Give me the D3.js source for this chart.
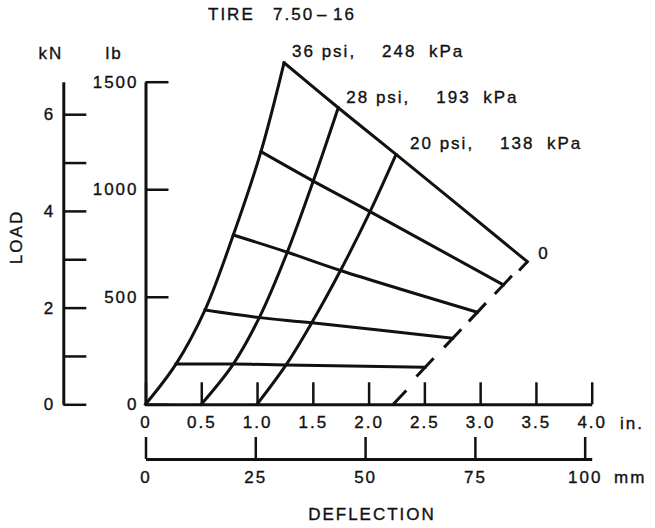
<!DOCTYPE html>
<html>
<head>
<meta charset="utf-8">
<script src="https://cdn.jsdelivr.net/npm/d3@7"></script>
<style>
  body { margin: 0; background: #fff; }
  text { font-family: "Liberation Sans", Arial, sans-serif; fill: #111; stroke: #111; stroke-width: 0.35px; }
</style>
</head>
<body>
<div id="chart"></div>
<script>
// Tire 7.50-16 load / deflection carpet
var pressurePsi = [36, 28, 20, 0];
var pressureKPa = [248, 193, 138, 0];

// deflection (in.) and load (lb) at each crossing, from the axis upward
var defl36 = [0, 0.273, 0.533, 0.787, 1.035, 1.242];
var load36 = [0, 187, 438, 787, 1175, 1588];
var defl28 = [0.5, 0.787, 1.020, 1.271, 1.504, 1.728];
var load28 = [0, 187, 403, 707, 1038, 1379];
var defl20 = [1.0, 1.26, 1.49, 1.748, 2.013, 2.246];
var load20 = [0, 183, 379, 622, 896, 1162];
var defl0 = [2.221, 2.506, 2.754, 2.975, 3.208, 3.423];
var load0 = [0, 172, 307, 428, 555, 663];

// axis ticks
var inchTicks = [0, 0.5, 1.0, 1.5, 2.0, 2.5, 3.0, 3.5, 4.0];
var mmTicks = [0, 25, 50, 75, 100];
var lbTicks = [0, 500, 1000, 1500];
var kNTicks = [0, 1, 2, 3, 4, 5, 6];
var kNLabels = [0, 2, 4, 6];

var svgWidth = 655;
var svgHeight = 528;
var fontSize = 17;
var spacing = "2px";

var svg = d3.select("#chart")
  .append("svg")
  .attr("width", svgWidth)
  .attr("height", svgHeight);

// scales
var xScale = d3.scaleLinear().domain([0, 4]).range([145.5, 591.7]);
var yScale = d3.scaleLinear().domain([0, 1500]).range([404.3, 81.7]);
var mmScale = d3.scaleLinear().domain([0, 4 * 25.4]).range(xScale.range());
var kNScale = d3.scaleLinear().domain([0, 1500 * 0.0044482]).range(yScale.range());

function styleAxis(g) {
  g.attr("font-family", null).attr("font-size", null);
  g.select(".domain").attr("stroke", "#111").attr("stroke-width", 3);
  g.selectAll(".tick line").attr("stroke", "#111").attr("stroke-width", 2.5);
  g.selectAll(".tick text")
    .style("font-size", fontSize + "px")
    .style("letter-spacing", spacing)
    .attr("fill", "#111");
}

// inch axis (ticks point up, labels below)
svg.append("g")
  .attr("transform", "translate(0," + yScale(0) + ")")
  .call(d3.axisBottom(xScale)
    .tickValues(inchTicks)
    .tickSizeInner(-22)
    .tickSizeOuter(0)
    .tickPadding(12)
    .tickFormat(d => d === 0 ? "0" : d.toFixed(1)))
  .call(styleAxis);

// mm axis
svg.append("g")
  .attr("transform", "translate(0,459)")
  .call(d3.axisBottom(mmScale)
    .tickValues(mmTicks)
    .tickSizeInner(-22)
    .tickSizeOuter(0)
    .tickPadding(12)
    .tickFormat(d3.format("d")))
  .call(styleAxis);

// lb axis (ticks point right, labels left)
svg.append("g")
  .attr("transform", "translate(" + xScale(0) + ",0)")
  .call(d3.axisLeft(yScale)
    .tickValues(lbTicks)
    .tickSizeInner(-23)
    .tickSizeOuter(0)
    .tickPadding(7)
    .tickFormat(d3.format("d")))
  .call(styleAxis);

// kN axis
svg.append("g")
  .attr("transform", "translate(63.3,0)")
  .call(d3.axisLeft(kNScale)
    .tickValues(kNTicks)
    .tickSizeInner(-23)
    .tickSizeOuter(0)
    .tickPadding(8)
    .tickFormat(d => kNLabels.indexOf(d) >= 0 ? d : ""))
  .call(styleAxis);

// carpet: constant pressure curves
var deflSets = [defl36, defl28, defl20, defl0];
var loadSets = [load36, load28, load20, load0];

var line = d3.line()
  .x(d => xScale(d[0]))
  .y(d => yScale(d[1]))
  .curve(d3.curveCatmullRom.alpha(0.5));

var carpet = svg.append("g")
  .attr("fill", "none")
  .attr("stroke", "#111")
  .attr("stroke-width", 3)
  .attr("stroke-linecap", "square")
  .attr("stroke-linejoin", "miter");

[0, 1, 2].forEach(function(p) {
  var pts = deflSets[p].map((d, i) => [d, loadSets[p][i]]);
  carpet.append("path").attr("d", line(pts));
});

// cross lines from the 36 psi curve to the 0 psi line
d3.range(1, 6).forEach(function(k) {
  var pts = deflSets.map((ds, p) => [ds[k], loadSets[p][k]]);
  carpet.append("path").attr("d", line(pts));
});

// 0 psi line: dashes centred on the crossing points
var px0 = defl0.map((d, i) => [xScale(d), yScale(load0[i])]);
var first = px0[0], last = px0[px0.length - 1];
var len = Math.hypot(last[0] - first[0], last[1] - first[1]);
var ux = (last[0] - first[0]) / len, uy = (last[1] - first[1]) / len;
px0.forEach(function(p, i) {
  var a = i === 0 ? 0 : -12.5;
  var b = i === 0 ? 19 : (i === px0.length - 1 ? 0 : 12.5);
  if (i === px0.length - 1) a = -12;
  carpet.append("line")
    .attr("x1", p[0] + ux * a).attr("y1", p[1] + uy * a)
    .attr("x2", p[0] + ux * b).attr("y2", p[1] + uy * b)
    .attr("stroke-linecap", "butt");
});

// pressure labels next to the top of each curve
var labelOffsets = [[8, -6], [8, -5], [14, -5]];
var partOffsets = [0, 90, 137];
[0, 1, 2].forEach(function(p) {
  var top = [xScale(deflSets[p][5]), yScale(loadSets[p][5])];
  var parts = [pressurePsi[p] + " psi,", pressureKPa[p], "kPa"];
  parts.forEach(function(t, j) {
    svg.append("text")
      .attr("x", top[0] + labelOffsets[p][0] + partOffsets[j])
      .attr("y", top[1] + labelOffsets[p][1])
      .style("font-size", fontSize + "px")
      .style("letter-spacing", spacing)
      .text(t);
  });
});
svg.append("text")
  .attr("x", px0[5][0] + 11)
  .attr("y", px0[5][1] - 3)
  .style("font-size", fontSize + "px")
  .text(pressurePsi[3]);

// titles and units
function label(x, y, t, anchor, size) {
  return svg.append("text")
    .attr("x", x).attr("y", y)
    .attr("text-anchor", anchor || "start")
    .style("font-size", (size || fontSize) + "px")
    .style("letter-spacing", spacing)
    .text(t);
}

label(208, 20, "TIRE", "start");
label(273, 20, "7.50", "start");
label(317, 20, "\u2013", "start");
label(333, 20, "16", "start");

label(51, 59, "kN", "middle");
label(114, 59, "lb", "middle");
label(620, 429, "in.");
label(614, 483, "mm");
label(372, 520, "DEFLECTION", "middle");

svg.append("text")
  .attr("transform", "translate(21.5,237) rotate(-90)")
  .attr("text-anchor", "middle")
  .style("font-size", fontSize + "px")
  .style("letter-spacing", spacing)
  .text("LOAD");
</script>
</body>
</html>
